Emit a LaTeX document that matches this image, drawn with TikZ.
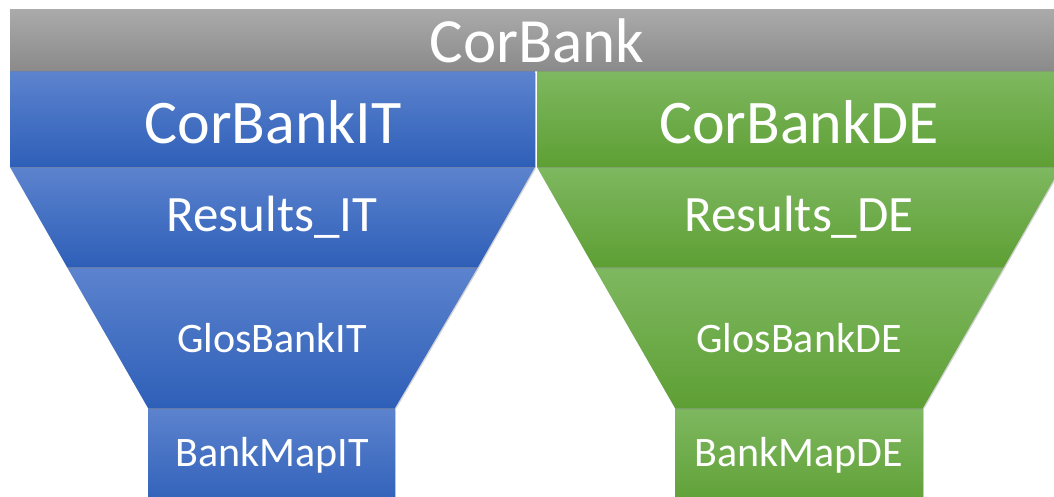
\documentclass[tikz,border=0pt]{standalone}
\usepackage{fontspec}
\setmainfont{Carlito}
\usetikzlibrary{shadows}
\definecolor{bluetop}{RGB}{92,131,206}
\definecolor{bluebot}{RGB}{46,95,184}
\definecolor{greentop}{RGB}{126,184,96}
\definecolor{greenbot}{RGB}{94,159,52}
\definecolor{graytop}{RGB}{170,170,170}
\definecolor{graybot}{RGB}{138,138,138}
\tikzset{
  blueband/.style={top color=bluetop, bottom color=bluebot, drop shadow={shadow xshift=0.8pt, shadow yshift=-1.5pt, opacity=0.35}},
  greenband/.style={top color=greentop, bottom color=greenbot, drop shadow={shadow xshift=0.8pt, shadow yshift=-1.5pt, opacity=0.35}},
  grayband/.style={top color=graytop, bottom color=graybot, drop shadow={shadow xshift=0.8pt, shadow yshift=-1.5pt, opacity=0.35}},
  lbl/.style={text=white, inner sep=0pt, anchor=center}
}
\begin{document}
\begin{tikzpicture}[x=1pt,y=-1pt]
\useasboundingbox (0,0) rectangle (1054,497);
\clip (0,0) rectangle (1054,497);
% bottom layers first so shadows of upper layers overlap
\path[blueband] (148,408) rectangle (395,510);
\path[greenband] (675,408) rectangle (923,510);
\path[blueband] (67,267) -- (478,267) -- (395,408) -- (148,408) -- cycle;
\path[greenband] (594,267) -- (1004,267) -- (923,408) -- (675,408) -- cycle;
\path[blueband] (10,167) -- (535,167) -- (478,267) -- (67,267) -- cycle;
\path[greenband] (537,167) -- (1061,167) -- (1004,267) -- (594,267) -- cycle;
\path[blueband] (10,72) rectangle (535,167);
\path[greenband] (537,72) rectangle (1061,167);
\path[grayband] (10,10) rectangle (1061,71);
% labels
\node[lbl, font=\fontsize{63}{63}\selectfont] (corbank) at (537,41) {CorBank};
\node[lbl, font=\fontsize{62}{62}\selectfont] (corit) at (273,122) {CorBankIT};
\node[lbl, font=\fontsize{62}{62}\selectfont] (corde) at (799,122) {CorBankDE};
\node[lbl, font=\fontsize{51}{51}\selectfont] (resit) at (272,217) {Results\_IT};
\node[lbl, font=\fontsize{51}{51}\selectfont] (resde) at (799,217) {Results\_DE};
\node[lbl, font=\fontsize{42}{42}\selectfont] (glosit) at (272,338) {GlosBankIT};
\node[lbl, font=\fontsize{42}{42}\selectfont] (glosde) at (799,338) {GlosBankDE};
\node[lbl, font=\fontsize{42}{42}\selectfont] (mapit) at (272,455) {BankMapIT};
\node[lbl, font=\fontsize{42}{42}\selectfont] (mapde) at (799,455) {BankMapDE};
\end{tikzpicture}
\end{document}
